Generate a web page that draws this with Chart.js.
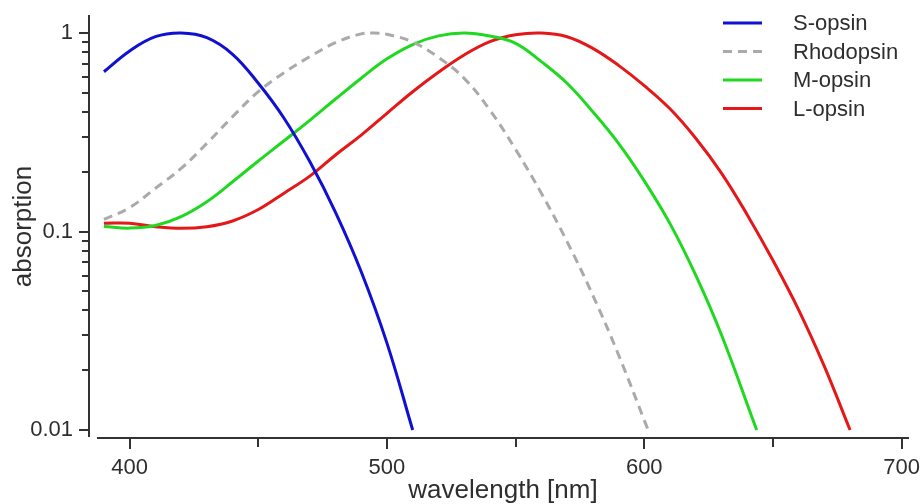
<!DOCTYPE html>
<html>
<head>
<meta charset="utf-8">
<script src="https://cdn.jsdelivr.net/npm/chart.js@4.4.1/dist/chart.umd.min.js"></script>
<style>
  html, body { margin: 0; padding: 0; background: #fff; }
  #wrap { width: 922px; height: 504px; }
</style>
</head>
<body>
<div id="wrap"><canvas id="spectra" width="922" height="504"></canvas></div>
<script>
// absorption spectra (wavelength in nm, relative absorption)
const sOpsinNm  = [390, 400, 410, 420, 430, 440, 450, 460, 470, 480, 490, 500, 510];
const sOpsinAbs = [0.638, 0.812, 0.958, 1.0, 0.947, 0.781, 0.558, 0.372, 0.225, 0.125, 0.0627, 0.0274, 0.01];

const rhoNm  = [390, 400, 410, 420, 430, 440, 450, 460, 470, 480, 490, 495, 500, 510, 520, 530, 540, 550, 560, 570, 580, 590, 601.5];
const rhoAbs = [0.115, 0.132, 0.165, 0.208, 0.278, 0.379, 0.506, 0.631, 0.76, 0.894, 0.99, 1.0, 0.985, 0.90, 0.754, 0.591, 0.409, 0.259, 0.156, 0.0889, 0.0478, 0.0239, 0.01];

const mOpsinNm  = [390, 400, 410, 420, 430, 440, 450, 460, 470, 480, 490, 500, 510, 520, 530, 540, 550, 560, 570, 580, 590, 600, 610, 620, 630, 643.7];
const mOpsinAbs = [0.106, 0.104, 0.1072, 0.1189, 0.1413, 0.178, 0.2265, 0.2864, 0.363, 0.465, 0.592, 0.741, 0.875, 0.967, 1.0, 0.965, 0.887, 0.717, 0.558, 0.401, 0.278, 0.18, 0.1096, 0.0603, 0.0302, 0.01];

const lOpsinNm  = [390, 400, 410, 420, 430, 440, 450, 460, 470, 480, 490, 500, 510, 520, 530, 540, 550, 560, 570, 580, 590, 600, 610, 620, 630, 640, 650, 660, 670, 680];
const lOpsinAbs = [0.11, 0.11, 0.1057, 0.1037, 0.1057, 0.113, 0.129, 0.156, 0.19, 0.243, 0.306, 0.394, 0.506, 0.634, 0.775, 0.905, 0.98, 1.0, 0.958, 0.837, 0.687, 0.543, 0.415, 0.295, 0.197, 0.1216, 0.0716, 0.0403, 0.0209, 0.01];

const seriesNames = ['S-opsin', 'Rhodopsin', 'M-opsin', 'L-opsin'];

// axis ticks
const xTickLabels = [400, 500, 600, 700];
const xMinorTicks = [450, 550, 650];
const yTickLabels = [0.01, 0.1, 1];

const textColor = '#2e2e2e';
const axisColor = '#333333';
Chart.defaults.font.family = '"Liberation Sans", Arial, Helvetica, sans-serif';
Chart.defaults.color = textColor;

function toPoints(nm, vals) {
    return nm.map((w, i) => ({x: w, y: vals[i]}));
}

// axis lines and tick marks, placed like the original (y axis sits a bit left of the plot)
const axesPlugin = {
    id: 'manualAxes',
    afterDraw(chart) {
        const {ctx, chartArea, scales: {x, y}} = chart;
        const yAxisX = chartArea.left - 8;
        const xAxisY = chartArea.bottom + 1;
        ctx.save();
        ctx.strokeStyle = axisColor;
        ctx.lineWidth = 2;
        ctx.beginPath();
        ctx.moveTo(yAxisX, chartArea.top - 1);
        ctx.lineTo(yAxisX, chartArea.bottom);
        ctx.moveTo(chartArea.left, xAxisY);
        ctx.lineTo(chartArea.right, xAxisY);

        yTickLabels.forEach(d => {
            let py = Math.round(y.getPixelForValue(d));
            ctx.moveTo(yAxisX - 10, py);
            ctx.lineTo(yAxisX, py);
            for (let k = 2; k <= 9; k++) {
                let v = k * d;
                if (v > y.max) break;
                py = Math.round(y.getPixelForValue(v));
                ctx.moveTo(yAxisX - 7, py);
                ctx.lineTo(yAxisX, py);
            }
        });

        xTickLabels.forEach(v => {
            const px = Math.round(x.getPixelForValue(v));
            ctx.moveTo(px, xAxisY);
            ctx.lineTo(px, xAxisY + 11);
        });
        xMinorTicks.forEach(v => {
            const px = Math.round(x.getPixelForValue(v));
            ctx.moveTo(px, xAxisY);
            ctx.lineTo(px, xAxisY + 9);
        });
        ctx.stroke();
        ctx.restore();
    }
};

// legend in the top right corner, inside the plot
const legendPlugin = {
    id: 'cornerLegend',
    afterDraw(chart) {
        const ctx = chart.ctx;
        ctx.save();
        ctx.font = '22px "Liberation Sans", Arial, sans-serif';
        ctx.textBaseline = 'middle';
        ctx.textAlign = 'left';
        chart.data.datasets.forEach((ds, i) => {
            const yy = 23 + i * 28.5;
            ctx.strokeStyle = ds.borderColor;
            ctx.lineWidth = ds.borderWidth;
            ctx.setLineDash(ds.borderDash || []);
            ctx.beginPath();
            ctx.moveTo(723, yy);
            ctx.lineTo(762, yy);
            ctx.stroke();
            ctx.setLineDash([]);
            ctx.fillStyle = textColor;
            ctx.fillText(ds.label, 793, yy + 1);
        });
        ctx.restore();
    }
};

new Chart(document.getElementById('spectra'), {
    type: 'line',
    data: {
        datasets: [
            {label: seriesNames[0], data: toPoints(sOpsinNm, sOpsinAbs), borderColor: '#1010d2', borderWidth: 3},
            {label: seriesNames[1], data: toPoints(rhoNm, rhoAbs), borderColor: '#aaaaaa', borderWidth: 3, borderDash: [9, 6]},
            {label: seriesNames[2], data: toPoints(mOpsinNm, mOpsinAbs), borderColor: '#20d820', borderWidth: 3},
            {label: seriesNames[3], data: toPoints(lOpsinNm, lOpsinAbs), borderColor: '#e41818', borderWidth: 3}
        ]
    },
    options: {
        responsive: false,
        animation: false,
        events: [],
        devicePixelRatio: 1,
        layout: {padding: {left: 0, right: 13, top: 16, bottom: 0}},
        elements: {
            point: {radius: 0},
            line: {fill: false, tension: 0.4}
        },
        plugins: {
            legend: {display: false},
            tooltip: {enabled: false}
        },
        scales: {
            x: {
                type: 'linear',
                bounds: 'data',
                min: 387.3,
                max: 702.9,
                grid: {display: false, drawTicks: false},
                border: {display: false},
                ticks: {font: {size: 22}, color: textColor, padding: 18, maxRotation: 0, autoSkip: false},
                afterBuildTicks: axis => { axis.ticks = xTickLabels.map(v => ({value: v})); },
                afterFit: axis => {
                    axis.height = 67;
                    axis.paddingLeft = 0;
                    axis.paddingRight = 0;
                },
                title: {display: true, text: 'wavelength [nm]', color: textColor, font: {size: 26, lineHeight: 1}, padding: 0}
            },
            y: {
                type: 'logarithmic',
                bounds: 'data',
                min: 0.00922,
                max: 1.218,
                grid: {display: false, drawTicks: false},
                border: {display: false},
                ticks: {font: {size: 22}, color: textColor, padding: 24, autoSkip: false,
                        callback: v => String(v)},
                afterBuildTicks: axis => { axis.ticks = yTickLabels.map(v => ({value: v})); },
                afterFit: axis => {
                    axis.width = 97;
                    axis.paddingTop = 0;
                    axis.paddingBottom = 0;
                },
                title: {display: true, text: 'absorption', color: textColor, font: {size: 26, lineHeight: 1}, padding: {top: 11, bottom: 0}}
            }
        }
    },
    plugins: [axesPlugin, legendPlugin]
});
</script>
</body>
</html>
